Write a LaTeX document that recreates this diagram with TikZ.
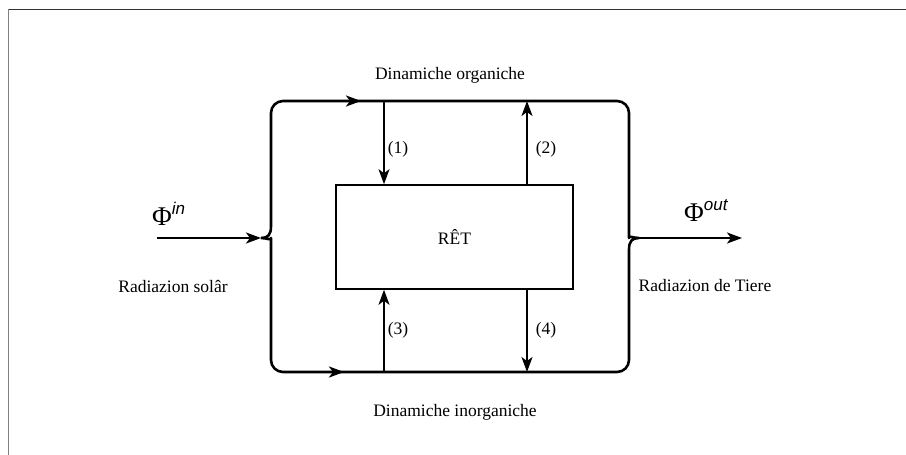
\documentclass[tikz,border=0pt]{standalone}
\usepackage{fontspec}
\setmainfont{Liberation Serif}
\newfontfamily\supsans{Liberation Sans}
\usetikzlibrary{arrows.meta}

\tikzset{
  tip/.style={-{Stealth[length=15pt,width=11pt,inset=4pt]}},
  loop/.style={line width=2.6pt, line join=round},
  flow/.style={tip, line width=1.7pt},
  txt/.style={font=\fontsize{17.5}{20}\selectfont, inner sep=0pt, anchor=base},
  core/.style={draw, line width=1.6pt, minimum width=237pt, minimum height=104pt,
               inner sep=0pt, font=\fontsize{17.5}{20}\selectfont},
  frame/.style={line width=1pt}
}
\newcommand{\fluxlabel}[1]{{\fontsize{27}{27}\selectfont Φ}\raisebox{11pt}{\fontsize{17}{17}\supsans\itshape #1}}

\begin{document}
\begin{tikzpicture}[x=1pt,y=-1pt]
  \useasboundingbox (0,0) rectangle (906,455);

  % page frame (top and left edges)
  \draw[frame, draw=black!80] (8,9) -- (906,9);
  \draw[frame, draw=black!50] (8,9) -- (8,455);

  % cusps of the two braces and the ends of the direction marks
  \coordinate (cin)  at (261,238);
  \coordinate (cout) at (639,238);
  \coordinate (topA) at (283,101);
  \coordinate (topB) at (361,101);
  \coordinate (botA) at (283,372);
  \coordinate (botB) at (344,372);
  \coordinate (src)  at (157,238);
  \coordinate (dst)  at (742,238);

  % outer loop with brace-like cusps
  \draw[loop] (cin) .. controls (268,238) and (271,235) .. (271,226)
    {[rounded corners=12pt] -- (271,101) -- (629,101) -- (629,226)}
    .. controls (629,235) and (632,238) .. (cout)
    .. controls (632,238) and (629,241) .. (629,250)
    {[rounded corners=12pt] -- (629,372) -- (271,372) -- (271,250)}
    .. controls (271,241) and (268,238) .. (cin);

  % direction marks on the upper and lower branches
  \draw[tip, line width=2.6pt] (topA) -- (topB);
  \draw[tip, line width=2.6pt] (botA) -- (botB);

  % incoming and outgoing flux
  \draw[tip, line width=2.4pt] (src) -- (cin);
  \draw[tip, line width=2.4pt] (cout) -- (dst);

  % central box
  \node[core] (ret) at (454.5,237) {RÊT};

  % exchange points on the branches
  \coordinate (o1) at (384,101);
  \coordinate (o2) at (527,101);
  \coordinate (i3) at (384,372);
  \coordinate (i4) at (527,372);

  \draw[flow] (o1) -- (o1 |- ret.north);
  \draw[flow] (o2 |- ret.north) -- (o2);
  \draw[flow] (i3) -- (i3 |- ret.south);
  \draw[flow] (i4 |- ret.south) -- (i4);

  % labels
  \node[txt] (l1) at (398,153) {(1)};
  \node[txt] (l2) at (546,153) {(2)};
  \node[txt] (l3) at (398,334) {(3)};
  \node[txt] (l4) at (546,334) {(4)};

  \node[txt] (org)   at (450,79)  {Dinamiche organiche};
  \node[txt] (inorg) at (455,416) {Dinamiche inorganiche};
  \node[txt] (sol)   at (173,292) {Radiazion solâr};
  \node[txt] (tiere) at (705,291) {Radiazion de Tiere};

  \node[inner sep=0pt, anchor=base west] (phiin)  at (152,225) {\fluxlabel{in}};
  \node[inner sep=0pt, anchor=base west] (phiout) at (684,221) {\fluxlabel{out}};
\end{tikzpicture}
\end{document}
